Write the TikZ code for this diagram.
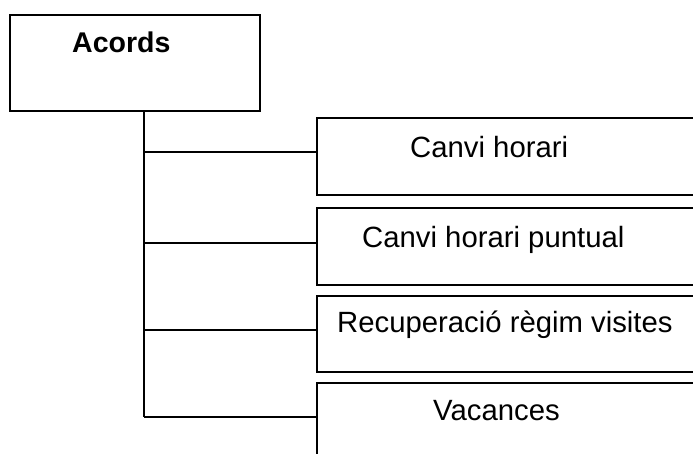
\documentclass[tikz,border=0pt]{standalone}
\usepackage{fontspec}
\setmainfont{Liberation Sans}
\begin{document}
\begin{tikzpicture}[x=1pt,y=-1pt,
  box/.style={draw=black, line width=1.8pt, rectangle, anchor=north west, inner sep=0pt},
  lbl/.style={anchor=base west, inner sep=0pt, font=\fontsize{29.3}{35}\selectfont},
  conn/.style={draw=black, line width=1.8pt}]
\useasboundingbox (0,0) rectangle (693,453);
\clip (0,0) rectangle (693,453);
\fill[white] (0,0) rectangle (693,453);
% root
\node[box, minimum width=250pt, minimum height=96pt] (root) at (9,14) {};
\node[lbl, font=\fontsize{28.5}{34}\selectfont\bfseries] (roottxt) at (72,52) {Acords};
% children
\node[box, minimum width=420pt, minimum height=77pt] (c1) at (316,117) {};
\node[box, minimum width=420pt, minimum height=77pt] (c2) at (316,207) {};
\node[box, minimum width=420pt, minimum height=76pt] (c3) at (316,295) {};
\node[box, minimum width=420pt, minimum height=100pt] (c4) at (316,382) {};
\node[lbl] (t1) at (410,157) {Canvi horari};
\node[lbl] (t2) at (362,247) {Canvi horari puntual};
\node[lbl] (t3) at (337,332) {Recuperació règim visites};
\node[lbl] (t4) at (433,420) {Vacances};
% trunk
\coordinate (j0) at (144,110);
\coordinate (j1) at (144,152);
\coordinate (j2) at (144,243);
\coordinate (j3) at (144,330);
\coordinate (j4) at (144,417);
\draw[conn] (j0) -- (j4);
\draw[conn] (j1) -- (j1 -| c1.west);
\draw[conn] (j2) -- (j2 -| c2.west);
\draw[conn] (j3) -- (j3 -| c3.west);
\draw[conn] (j4) -- (j4 -| c4.west);
\end{tikzpicture}
\end{document}
